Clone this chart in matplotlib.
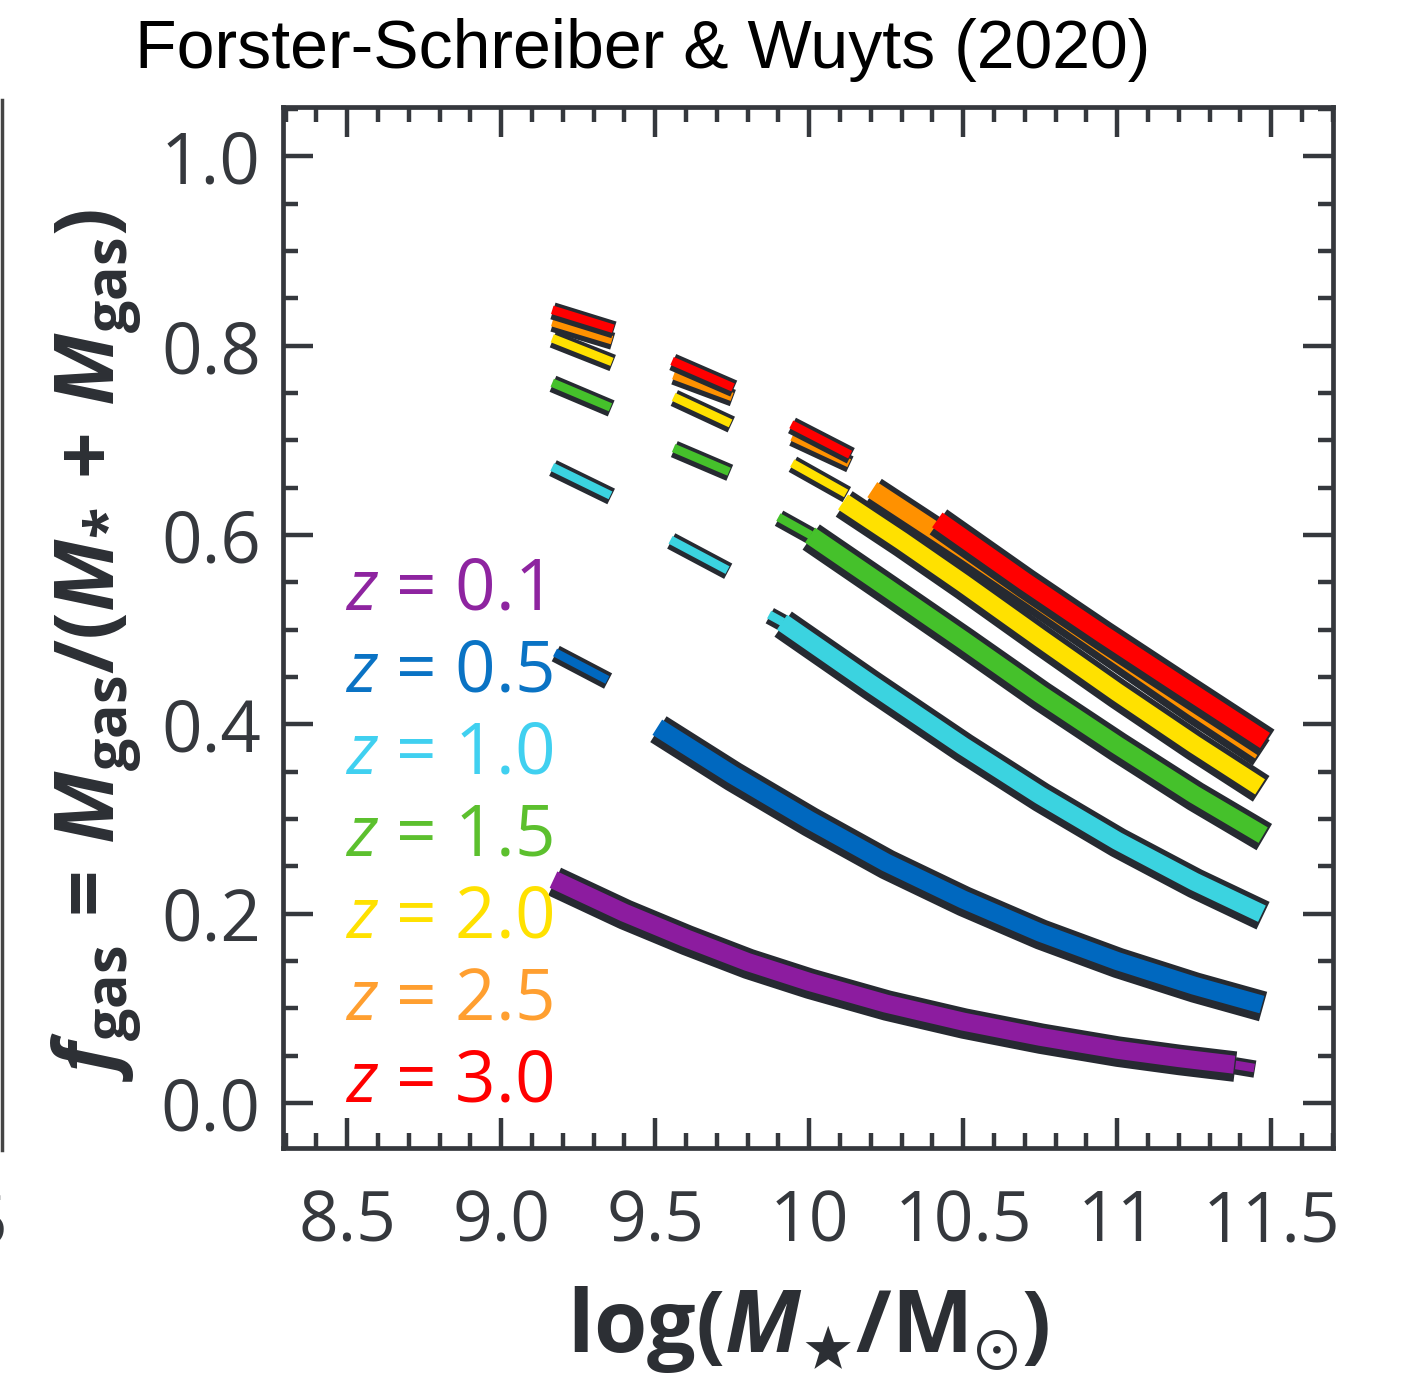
import matplotlib
matplotlib.use('Agg')
import matplotlib.pyplot as plt
import matplotlib.patheffects as pe
from matplotlib.lines import Line2D
from matplotlib.ticker import MultipleLocator, FixedLocator
import numpy as np

plt.rcParams['font.family'] = ['Open Sans', 'DejaVu Sans']
plt.rcParams['mathtext.fontset'] = 'custom'
plt.rcParams['mathtext.rm'] = 'Open Sans'
plt.rcParams['mathtext.it'] = 'Open Sans:italic'
plt.rcParams['mathtext.bf'] = 'Open Sans:italic:bold'
plt.rcParams['mathtext.sf'] = 'Open Sans:bold'
plt.rcParams['mathtext.fallback'] = 'stixsans'

redshifts = ['0.1', '0.5', '1.0', '1.5', '2.0', '2.5', '3.0']
line_colors = ['#8c1c9f', '#0068bf', '#3bd3e0', '#45c12b', '#ffe100', '#ff9100', '#ff0000']
text_colors = ['#8e24a0', '#0a73c4', '#40d0f0', '#5cc02e', '#ffe100', '#ff9f30', '#ff0000']

# thick part of each relation (log M*, f_gas)
mass_z01 = [9.17, 9.4, 9.6, 9.8, 10.0, 10.25, 10.5, 10.75, 11.0, 11.2, 11.38]
fgas_z01 = [0.236, 0.201, 0.174, 0.149, 0.128, 0.105, 0.086, 0.070, 0.0563, 0.0475, 0.0405]
mass_z05 = [9.507, 9.75, 10.0, 10.25, 10.5, 10.75, 11.0, 11.25, 11.47]
fgas_z05 = [0.397, 0.347, 0.299, 0.254, 0.215, 0.180, 0.150, 0.124, 0.104]
mass_z10 = [9.912, 10.2, 10.5, 10.75, 11.0, 11.25, 11.47]
fgas_z10 = [0.508, 0.443, 0.377, 0.325, 0.277, 0.234, 0.200]
mass_z15 = [10.003, 10.25, 10.5, 10.75, 11.0, 11.25, 11.474]
fgas_z15 = [0.600, 0.545, 0.489, 0.432, 0.378, 0.326, 0.283]
mass_z20 = [10.11, 10.3, 10.5, 10.75, 11.0, 11.25, 11.464]
fgas_z20 = [0.635, 0.594, 0.549, 0.491, 0.434, 0.379, 0.334]
mass_z25 = [10.205, 10.5, 10.75, 11.0, 11.25, 11.464]
fgas_z25 = [0.648, 0.585, 0.530, 0.474, 0.418, 0.372]
mass_z30 = [10.416, 10.7, 10.95, 11.2, 11.48]
fgas_z30 = [0.616, 0.551, 0.496, 0.4425, 0.383]

# thin / dashed extrapolated pieces: [start, end] pairs
thin_m_z01 = [[11.38, 11.445]]
thin_f_z01 = [[0.0405, 0.037]]
thin_m_z05 = [[9.175, 9.345]]
thin_f_z05 = [[0.476, 0.447]]
thin_m_z10 = [[9.166, 9.355], [9.55, 9.735], [9.87, 9.915]]
thin_f_z10 = [[0.672, 0.642], [0.595, 0.563], [0.516, 0.508]]
thin_m_z15 = [[9.166, 9.355], [9.56, 9.74], [9.90, 10.005]]
thin_f_z15 = [[0.761, 0.735], [0.692, 0.667], [0.619, 0.600]]
thin_m_z20 = [[9.166, 9.36], [9.56, 9.745], [9.945, 10.12]]
thin_f_z20 = [[0.808, 0.783], [0.746, 0.718], [0.676, 0.644]]
thin_m_z25 = [[9.166, 9.36], [9.56, 9.75], [9.945, 10.13]]
thin_f_z25 = [[0.825, 0.806], [0.769, 0.746], [0.704, 0.676]]
thin_m_z30 = [[9.166, 9.364], [9.555, 9.753], [9.942, 10.133]]
thin_f_z30 = [[0.838, 0.818], [0.784, 0.756], [0.717, 0.685]]

thick_mass = [mass_z01, mass_z05, mass_z10, mass_z15, mass_z20, mass_z25, mass_z30]
thick_fgas = [fgas_z01, fgas_z05, fgas_z10, fgas_z15, fgas_z20, fgas_z25, fgas_z30]
thin_mass = [thin_m_z01, thin_m_z05, thin_m_z10, thin_m_z15, thin_m_z20, thin_m_z25, thin_m_z30]
thin_fgas = [thin_f_z01, thin_f_z05, thin_f_z10, thin_f_z15, thin_f_z20, thin_f_z25, thin_f_z30]

xticks = [8.5, 9.0, 9.5, 10.0, 10.5, 11.0, 11.5]
xticklabels = ['8.5', '9.0', '9.5', '10', '10.5', '11', '11.5']
yticks = [0.0, 0.2, 0.4, 0.6, 0.8, 1.0]
yticklabels = ['0.0', '0.2', '0.4', '0.6', '0.8', '1.0']

dark = '#262a31'
axcol = '#35383d'

fig = plt.figure(figsize=(14.04, 13.75), dpi=100)
ax = fig.add_axes([0.2016, 0.1651, 0.7479, 0.7571])

thick_fx = [pe.Stroke(linewidth=22, foreground=dark, offset=(0.8, -1.4)), pe.Normal()]
thin_fx = [pe.Stroke(linewidth=12.5, foreground=dark, offset=(0.5, -0.8)), pe.Normal()]

for i in range(len(redshifts)):
    for mm, ff in zip(thin_mass[i], thin_fgas[i]):
        ax.plot(mm, ff, color=line_colors[i], lw=6.2, solid_capstyle='butt',
                path_effects=thin_fx, zorder=2 + i)
    ax.plot(thick_mass[i], thick_fgas[i], color=line_colors[i], lw=13,
            solid_capstyle='butt', solid_joinstyle='round',
            path_effects=thick_fx, zorder=2 + i)

for i, z in enumerate(redshifts):
    ax.text(0.059, 0.517 - 0.0788 * i, '$z$ = ' + z, transform=ax.transAxes,
            color=text_colors[i], fontsize=51, va='baseline', ha='left', zorder=20)

ax.set_xlim(8.292, 11.701)
ax.set_ylim(-0.0475, 1.0523)
ax.xaxis.set_major_locator(FixedLocator(xticks))
ax.set_xticklabels(xticklabels)
ax.xaxis.set_minor_locator(MultipleLocator(0.1))
ax.yaxis.set_major_locator(FixedLocator(yticks))
ax.set_yticklabels(yticklabels)
ax.yaxis.set_minor_locator(MultipleLocator(0.05))

ax.tick_params(which='both', direction='in', top=True, right=True, color=axcol, width=3.2)
ax.tick_params(which='major', length=21.5)
ax.tick_params(which='minor', length=10.8)
ax.tick_params(axis='x', which='major', labelsize=50, labelcolor=axcol, pad=29)
ax.tick_params(axis='y', which='major', labelsize=51, labelcolor=axcol, pad=16)
for s in ax.spines.values():
    s.set_linewidth(3.4)
    s.set_color(axcol)

fig.text(0.0962, 0.9505, 'Forster-Schreiber & Wuyts (2020)', family='Liberation Sans',
         fontsize=49, color='black', ha='left', va='baseline')

fig.text(0.069, 0.531,
         r'$\mathbf{f}_{\mathsf{gas}}\mathsf{\,=\,}\mathbf{M}_{\mathsf{gas}}\mathsf{/(}\mathbf{M}_{\mathsf{*}}'
         r'\mathsf{\,+\,}\mathbf{M}_{\mathsf{gas}}\mathsf{)}$',
         rotation=90, ha='center', va='center', fontsize=59, color='#2c2f34')

fig.text(0.5755, 0.0167, r'$\mathsf{log(}\mathbf{M}_{\bigstar}\mathsf{/M}_{\odot}\mathsf{)}$',
         ha='center', va='baseline', fontsize=62, color='#2c2f34')

# edge of the neighbouring panel
fig.add_artist(Line2D([0.0015, 0.0015], [1 - 1150 / 1375, 1 - 100 / 1375],
                      color='#444444', lw=2.5))
fig.text(0.005, 1 - 1245 / 1375, '5', ha='right', va='baseline', fontsize=50, color=axcol)

fig.savefig('out.png', dpi=100)
